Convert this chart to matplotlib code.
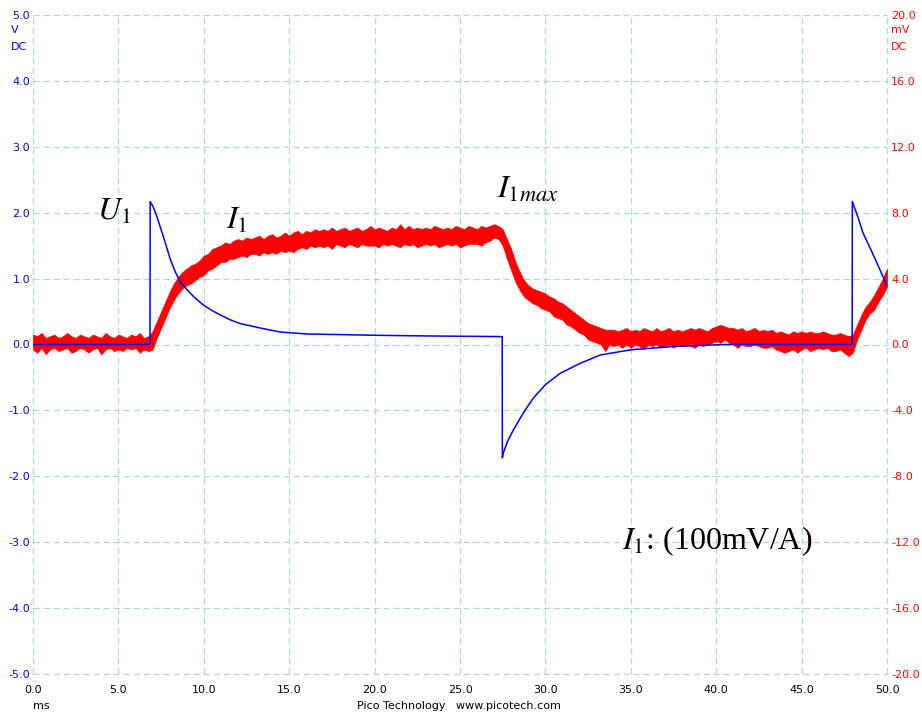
import numpy as np
import matplotlib
matplotlib.use("Agg")
import matplotlib.pyplot as plt

# ---------------- data ----------------
# Channel A (blue), volts, breakpoints of the trace
blue_t = [0, 6.85, 6.86, 7.05, 7.24, 7.43, 7.63, 8.02, 8.3, 8.6,
          9.0, 9.39, 9.97, 10.45, 10.95, 11.5, 12.1, 13.3, 14.46, 16.0,
          18.0, 20.0, 23.0, 27.47, 27.48, 27.53, 27.8, 28.12, 28.7, 29.3,
          30.0, 30.85, 32.0, 33.2, 35.0, 37.5, 40.5, 47.96, 47.97, 48.3,
          48.6, 49.2, 49.8, 50.0]
blue_v = [0.0, 0.0, 2.17, 2.08, 1.95, 1.80, 1.64, 1.31, 1.12, 0.96,
          0.84, 0.73, 0.60, 0.52, 0.45, 0.38, 0.32, 0.25, 0.19, 0.16,
          0.15, 0.14, 0.13, 0.12, -1.72, -1.65, -1.46, -1.30, -1.04, -0.81,
          -0.61, -0.44, -0.29, -0.16, -0.08, -0.03, 0.0, 0.0, 2.17, 1.93,
          1.69, 1.36, 1.01, 0.89]

# Channel B (red), mV, noise band read every 0.25 ms
red_t = np.arange(0, 50.001, 0.25)
red_upper = [
    0.6, 0.5, 0.7, 0.4,  0.5, 0.6, 0.4, 0.5,  0.7, 0.5, 0.4, 0.6,  0.5, 0.4, 0.6, 0.5,
    0.4, 0.7, 0.5, 0.4,  0.6, 0.5, 0.4, 0.6,  0.5, 0.7, 0.4, 0.5,  0.8, 1.4, 2.0, 2.6,
    3.2, 3.7, 4.1, 4.4,  4.6, 4.8, 4.9, 5.1,  5.4, 5.5, 5.8, 5.9,  6.0, 6.2, 6.1, 6.3,
    6.4, 6.3, 6.5, 6.4,  6.5, 6.6, 6.4, 6.6,  6.7, 6.5, 6.6, 6.8,  6.6, 6.8, 6.9, 6.7,
    6.9, 6.8, 7.0, 6.9,  7.0, 6.9, 7.1, 6.9,  7.0, 7.1, 6.9, 7.0,  7.1, 6.9, 7.0, 7.2,
    7.0, 7.1, 7.0, 6.9,  7.1, 7.0, 7.3, 7.0,  7.2, 7.0, 7.1, 7.0,  7.1, 7.0, 7.2, 7.1,
    7.0, 7.1, 7.0, 7.2,  7.1, 7.0, 7.2, 7.1,  7.0, 7.2, 7.1, 7.2,  7.3, 7.2, 7.0, 6.4,
    5.8, 5.0, 4.4, 3.9,  3.6, 3.4, 3.3, 3.2,  3.1, 2.9, 2.8, 2.6,  2.5, 2.3, 2.1, 1.9,
    1.7, 1.5, 1.3, 1.2,  1.1, 1.0, 0.9, 0.9,  0.9, 0.8, 0.9, 1.0,  0.8, 0.9, 0.8, 1.0,
    0.9, 0.8, 1.0, 0.8,  0.9, 1.0, 0.8, 0.9,  0.8, 0.9, 1.0, 0.9,  1.0, 0.9, 0.8, 1.0,
    1.1, 1.2, 1.1, 1.0,  1.0, 0.9, 1.0, 0.8,  0.9, 1.0, 0.8, 0.9,  0.8, 0.9, 0.7, 0.8,
    0.7, 0.6, 0.8, 0.7,  0.8, 0.7, 0.8, 0.7,  0.7, 0.8, 0.7, 0.6,  0.6, 0.7, 0.6, 0.5,
    0.6, 1.2, 1.8, 2.3,  2.6, 3.0, 3.5, 4.0,  4.6]
red_lower = [
    -0.3, -0.5, -0.2, -0.6,  -0.3, -0.2, -0.4, -0.3,  -0.2, -0.5, -0.4, -0.2,  -0.3, -0.5, -0.3, -0.2,
    -0.6, -0.3, -0.2, -0.4,  -0.3, -0.4, -0.2, -0.3,  -0.2, -0.5, -0.3, -0.4,  -0.3, 0.4, 1.0, 1.6,
    2.2, 2.7, 3.1, 3.4,  3.6, 3.7, 3.9, 4.1,  4.2, 4.5, 4.6, 4.8,  5.0, 5.0, 5.2, 5.2,
    5.3, 5.4, 5.3, 5.5,  5.5, 5.4, 5.6, 5.5,  5.6, 5.5, 5.7, 5.6,  5.7, 5.6, 5.8, 5.9,
    5.8, 6.0, 5.9, 6.0,  5.9, 6.0, 5.8, 6.1,  6.0, 5.9, 6.1, 6.0,  5.9, 6.1, 6.0, 6.0,
    6.0, 5.9, 6.1, 6.0,  6.1, 6.0, 5.9, 6.1,  6.0, 6.1, 5.9, 6.0,  6.1, 6.0, 6.1, 5.9,
    6.0, 6.1, 6.0, 6.1,  5.9, 6.0, 6.1, 6.1,  6.1, 6.0, 6.2, 6.3,  6.5, 6.4, 6.0, 5.2,
    4.5, 3.8, 3.3, 2.9,  2.7, 2.5, 2.4, 2.2,  2.1, 2.0, 1.7, 1.6,  1.5, 1.2, 1.1, 0.9,
    0.7, 0.6, 0.3, 0.2,  0.1, 0.0, -0.4, 0.0,  -0.1, 0.0, -0.2, 0.0,  -0.2, 0.0, -0.1, -0.3,
    0.0, -0.1, 0.0, -0.2,  -0.1, 0.0, -0.2, 0.0,  -0.1, 0.0, -0.1, -0.2,  0.0, -0.1, 0.0, 0.1,
    0.2, 0.1, 0.3, 0.1,  0.0, -0.2, 0.0, -0.1,  -0.1, 0.0, -0.1, -0.2,  -0.2, -0.1, -0.3, -0.4,
    -0.5, -0.4, -0.3, -0.5,  -0.3, -0.2, -0.4, -0.3,  -0.2, -0.3, -0.2, -0.4,  -0.4, -0.3, -0.5, -0.7,
    -0.5, 0.3, 0.9, 1.5,  1.9, 2.1, 2.6, 3.0,  3.5]

x_ticks = [0, 5, 10, 15, 20, 25, 30, 35, 40, 45, 50]
x_labels = ["0.0", "5.0", "10.0", "15.0", "20.0", "25.0", "30.0", "35.0", "40.0", "45.0", "50.0"]
left_ticks = [5, 4, 3, 2, 1, 0, -1, -2, -3, -4, -5]
left_labels = ["5.0", "4.0", "3.0", "2.0", "1.0", "0.0", "-1.0", "-2.0", "-3.0", "-4.0", "-5.0"]
right_ticks = [20, 16, 12, 8, 4, 0, -4, -8, -12, -16, -20]
right_labels = ["20.0", "16.0", "12.0", "8.0", "4.0", "0.0", "-4.0", "-8.0", "-12.0", "-16.0", "-20.0"]

# ---------------- figure ----------------
plt.rcParams["font.family"] = ["DejaVu Sans"]
plt.rcParams["mathtext.fontset"] = "stix"

W, H = 922, 714
fig = plt.figure(figsize=(W / 100, H / 100), dpi=100)
L, R, T, B = 33, 887, 15, 674
axR = fig.add_axes([L / W, (H - B) / H, (R - L) / W, (B - T) / H])
axL = axR.twinx()

grid_col = "#a9d7e3"
for ax in (axR, axL):
    for s in ax.spines.values():
        s.set_visible(False)
    ax.set_xlim(0, 50)

axR.set_ylim(-20, 20)
axL.set_ylim(-5, 5)

axR.set_xticks(x_ticks)
axR.set_xticklabels(x_labels, fontsize=8, color="black")
axR.set_yticks(right_ticks)
axR.set_yticklabels(right_labels, fontsize=8, color="red")
axR.yaxis.tick_right()
axL.set_yticks(left_ticks)
axL.set_yticklabels(left_labels, fontsize=8, color="blue")
axL.yaxis.tick_left()

axR.tick_params(axis="x", length=0, pad=8)
axR.tick_params(axis="y", length=0, pad=3)
axL.tick_params(axis="y", length=0, pad=2)

axR.grid(True, color=grid_col, linestyle=(0, (5, 3)), linewidth=0.9)
for gl in axR.get_xgridlines() + axR.get_ygridlines():
    gl.set_clip_on(False)

# red trace (noise band)
axR.fill_between(red_t, red_lower, red_upper, color="#ff0000",
                 linewidth=0.5, edgecolor="#ff0000", zorder=3)

# blue trace
axL.plot(blue_t, blue_v, color="#0000ff", linewidth=1.1, zorder=4)

# annotations
tk = dict(fontsize=23, color="black", family="Liberation Serif", ha="left", va="baseline")
axL.text(3.75, 1.89, r"$U_1$", **tk)
axL.text(11.3, 1.75, r"$I_1$", **tk)
axL.text(27.18, 2.22, r"$I_{1max}$", **tk)
axL.text(34.47, -3.11, r"$I_1$: (100mV/A)", **tk)

# channel unit labels
fig.text(11 / W, 1 - 30 / H, "V", fontsize=8, color="blue", ha="left", va="center")
fig.text(11 / W, 1 - 47 / H, "DC", fontsize=8, color="blue", ha="left", va="center")
fig.text(891 / W, 1 - 30 / H, "mV", fontsize=8, color="red", ha="left", va="center")
fig.text(891 / W, 1 - 47 / H, "DC", fontsize=8, color="red", ha="left", va="center")
fig.text(33 / W, 1 - 706 / H, "ms", fontsize=8, color="black", ha="left", va="center")
fig.text(459 / W, 1 - 706 / H, "Pico Technology   www.picotech.com", fontsize=8,
         color="black", ha="center", va="center")

fig.savefig("out.png", dpi=100, facecolor="white")
